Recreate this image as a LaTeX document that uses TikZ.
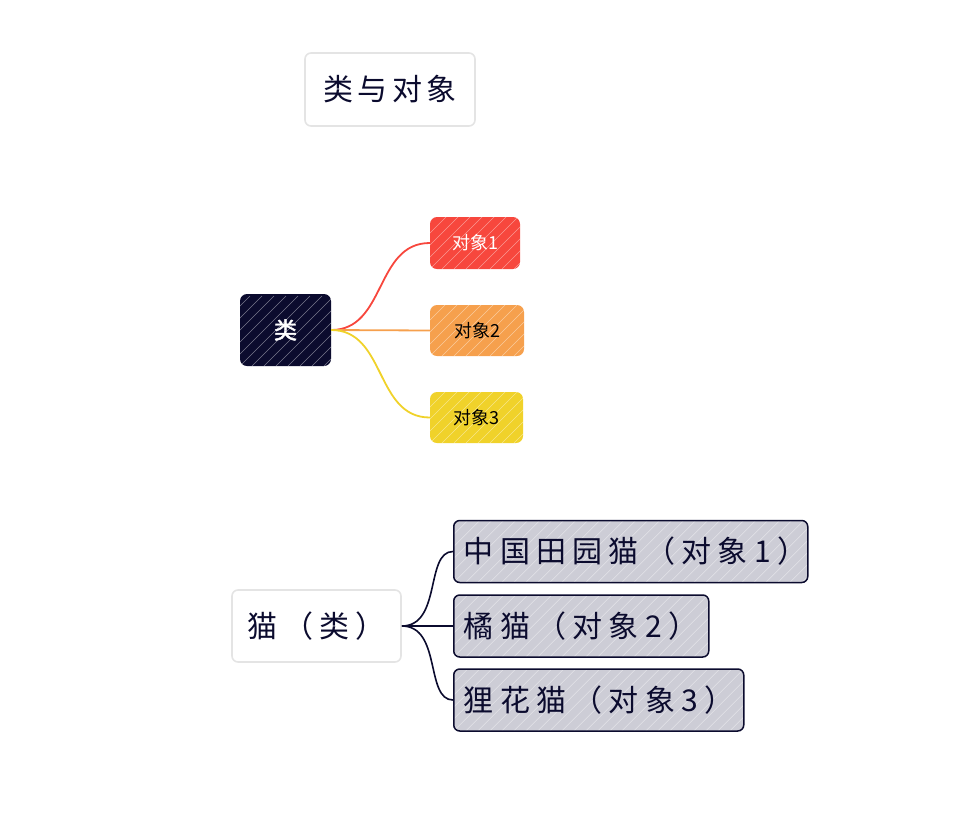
\documentclass[tikz,border=0pt]{standalone}
\usepackage{fontspec}
\setmainfont{Noto Sans CJK SC}
\newfontfamily\cjkspaced[LetterSpace=15]{Noto Sans CJK SC}
\newfontfamily\cjkwide[LetterSpace=21]{Noto Sans CJK SC}
\newfontfamily\cjkbold[FakeBold=2]{Noto Sans CJK SC}
\definecolor{navy}{HTML}{0B0B2E}
\definecolor{redc}{HTML}{F7473D}
\definecolor{orangec}{HTML}{F6A04D}
\definecolor{yellowc}{HTML}{F0D22A}
\definecolor{grayfill}{HTML}{CDCDD6}
\definecolor{lightborder}{HTML}{E4E4E4}
\begin{document}
\begin{tikzpicture}[x=1pt,y=-1pt,
  hachure/.style={path picture={
    \foreach \i in {-120,-108,...,420} {
      \draw[white, opacity=0.45, line width=0.6pt]
        ([xshift=\i pt]path picture bounding box.south west) -- ++(70pt,70pt);}}},
  whitebox/.style={draw=lightborder, line width=1.6pt, fill=white, rounded corners=6pt, inner sep=0pt},
  smallbox/.style={rounded corners=7pt, inner sep=0pt, hachure},
  catbox/.style={draw=navy, line width=1.5pt, fill=grayfill, rounded corners=6pt, inner sep=0pt,
     anchor=west, minimum height=62pt, align=left, hachure,
     font=\cjkwide\fontsize{30}{34}\selectfont, text=navy},
  conn/.style={line width=1.8pt}
]
\useasboundingbox (0,0) rectangle (964,820);

% title
\node[whitebox, minimum width=170pt, minimum height=73pt,
  font=\cjkspaced\fontsize{30}{34}\selectfont, text=navy] (title) at (390,89.5) {类与对象};

% class mind map
\node[smallbox, fill=navy, minimum width=91pt, minimum height=72pt,
  font=\cjkbold\fontsize{23}{26}\selectfont, text=white] (cls) at (285.5,330) {类};
\node[smallbox, fill=redc, minimum width=90pt, minimum height=52pt,
  font=\fontsize{18}{22}\selectfont, text=white] (o1) at (475,243) {对象1};
\node[smallbox, fill=orangec, minimum width=94pt, minimum height=51pt,
  font=\fontsize{18}{22}\selectfont, text=black] (o2) at (477,330.5) {对象2};
\node[smallbox, fill=yellowc, minimum width=93pt, minimum height=51pt,
  font=\fontsize{18}{22}\selectfont, text=black] (o3) at (476.5,417.5) {对象3};

\draw[conn, redc] (cls.east) .. controls +(55,0) and +(-55,0) .. (o1.west);
\draw[conn, orangec] (cls.east) -- (o2.west);
\draw[conn, yellowc] (cls.east) .. controls +(55,0) and +(-55,0) .. (o3.west);

% cat example
\node[whitebox, minimum width=169pt, minimum height=72pt,
  font=\cjkwide\fontsize{30}{34}\selectfont, text=navy] (cat) at (316.5,626) {猫（类）};

\node[catbox, minimum width=354pt, text width=334pt] (c1) at (453,551.5) {中国田园猫（对象1）};
\node[catbox, minimum width=255pt, text width=235pt] (c2) at (453,626) {橘猫（对象2）};
\node[catbox, minimum width=290pt, text width=270pt] (c3) at (453,700) {狸花猫（对象3）};

\draw[conn, navy, line width=1.6pt] (cat.east) .. controls +(40,0) and +(-28,0) .. (c1.west);
\draw[conn, navy, line width=1.6pt] (cat.east) -- (c2.west);
\draw[conn, navy, line width=1.6pt] (cat.east) .. controls +(40,0) and +(-28,0) .. (c3.west);
\end{tikzpicture}
\end{document}
